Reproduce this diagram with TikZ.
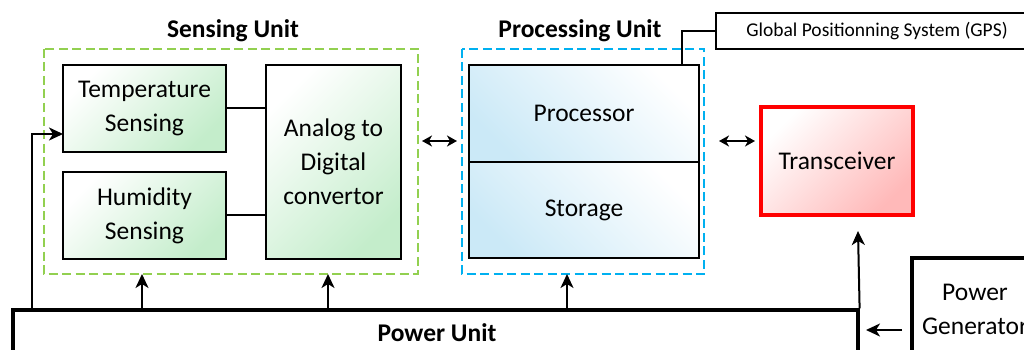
\documentclass[tikz,border=0pt]{standalone}
\usepackage{fontspec}
\setmainfont{Carlito}
\usetikzlibrary{arrows.meta}

\definecolor{sensegreen}{HTML}{92D050}
\definecolor{procblue}{HTML}{00B0F0}
\definecolor{greenfill}{HTML}{C4EDCB}
\definecolor{bluefill}{HTML}{CBE9F7}
\definecolor{redfill}{HTML}{FFB9B9}
\definecolor{trxred}{HTML}{FF0000}

\tikzset{
  blockfont/.style={font=\fontsize{25.5}{34}\selectfont},
  titlefont/.style={font=\bfseries\fontsize{25.5}{34}\selectfont},
  block/.style={draw=black, line width=2.3pt, align=center, inner sep=0pt, blockfont},
  sensebox/.style={block, top color=white, bottom color=greenfill, shading angle=45},
  procbox/.style={block, top color=white, bottom color=bluefill, shading angle=-45},
  trxbox/.style={block, draw=trxred, line width=3.5pt, top color=white, bottom color=redfill, shading angle=45},
  groupbox/.style={line width=2.8pt, dash pattern=on 9pt off 4.5pt},
  wire/.style={line width=2pt},
  feed/.style={line width=2pt, -{Stealth[length=14pt,width=13pt,inset=4pt]}},
  link/.style={line width=2.2pt, {Stealth[length=10pt,width=11pt,inset=3pt]}-{Stealth[length=10pt,width=11pt,inset=3pt]}},
}

\begin{document}
\begin{tikzpicture}[x=1pt,y=-1pt]
\useasboundingbox (0,0) rectangle (1024,350);
\clip (0,0) rectangle (1024,350);

% group outlines
\draw[groupbox, draw=sensegreen] (44,49) rectangle (418,274);
\draw[groupbox, draw=procblue] (462,49) rectangle (704,274);
\node[titlefont] (sensetitle) at (233,31) {Sensing Unit};
\node[titlefont] (proctitle) at (580,31) {Processing Unit};

% sensing unit
\node[sensebox, minimum width=163pt, minimum height=87pt] (temp) at (144.5,108.5) {Temperature\\Sensing};
\node[sensebox, minimum width=163pt, minimum height=87pt] (hum) at (144.5,215.5) {Humidity\\Sensing};
\node[sensebox, minimum width=135pt, minimum height=194pt] (adc) at (333.5,162) {Analog to\\Digital\\convertor};

% processing unit
\node[procbox, minimum width=230pt, minimum height=97pt] (proc) at (584,113.5) {Processor};
\node[procbox, minimum width=230pt, minimum height=96pt] (stor) at (584,210) {Storage};

% transceiver and GPS
\node[trxbox, minimum width=152pt, minimum height=108pt] (trx) at (837,161) {Transceiver};
\node[block, line width=2pt, minimum width=322pt, minimum height=36pt, font=\fontsize{19.5}{24}\selectfont] (gps) at (877,31) {Global Positionning System (GPS)};

% power
\node[draw=black, line width=3.2pt, minimum width=845pt, minimum height=80pt, inner sep=0pt] (pu) at (435.5,350) {};
\node[titlefont] (putext) at (437,333) {Power Unit};
\node[draw=black, line width=3.2pt, minimum width=126pt, minimum height=150pt, inner sep=0pt] (pg) at (975,333) {};
\node[blockfont, align=center] (pgtext) at (975,309) {Power\\Generator};

% reference points for the connectors
\coordinate (xleft) at (32,0);
\coordinate (xtemp) at (142,0);
\coordinate (xadc) at (328,0);
\coordinate (xproc) at (567,0);
\coordinate (xgps) at (682,0);
\coordinate (tempin) at (63,134);
\coordinate (la) at (422,141);
\coordinate (lb) at (457,141);
\coordinate (ra) at (719,141);
\coordinate (rb) at (755,141);
\coordinate (trxin) at (858,231);
\coordinate (ga) at (902,330);
\coordinate (gb) at (866,330);

% internal wiring
\draw[wire] (temp.east |- 0,108) -- (adc.west |- 0,108);
\draw[wire] (hum.east |- 0,215) -- (adc.west |- 0,215);
\draw[wire, line width=1.6pt] (proc.north -| xgps) |- (gps.west);

% power feeds
\draw[feed] (pu.north -| xleft) |- (tempin);
\draw[feed] (pu.north -| xtemp) -- (xtemp |- 0,274);
\draw[feed] (pu.north -| xadc) -- (xadc |- 0,274);
\draw[feed] (pu.north -| xproc) -- (xproc |- 0,274);
\draw[feed] (pu.north east) -- (trxin);
\draw[feed] (ga) -- (gb);

% data links
\draw[link] (la) -- (lb);
\draw[link] (ra) -- (rb);
\end{tikzpicture}
\end{document}
